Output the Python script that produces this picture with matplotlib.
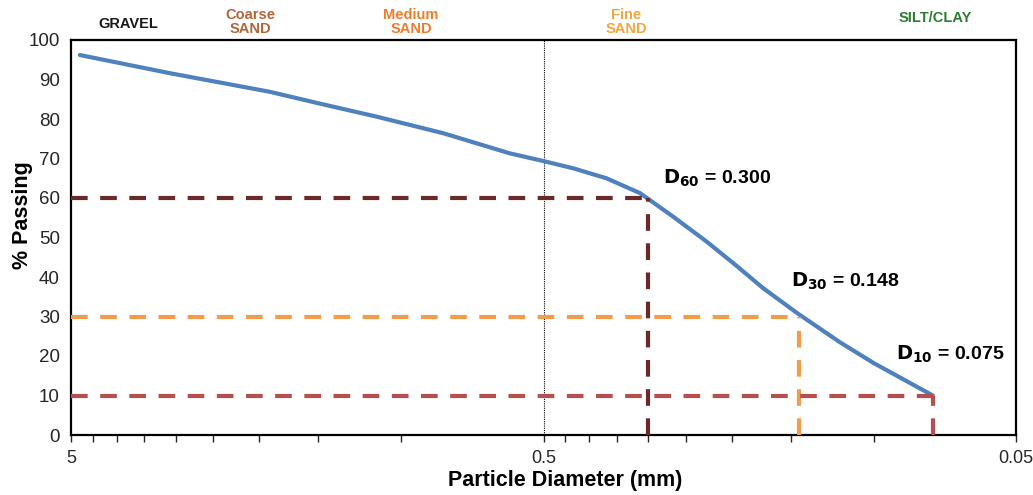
import numpy as np
import matplotlib
matplotlib.use('Agg')
import matplotlib.pyplot as plt
from matplotlib.ticker import FixedLocator, NullFormatter

# grain size curve
diameter = [4.79, 3.09, 1.90, 1.50, 1.128, 0.815, 0.589, 0.502, 0.432,
            0.368, 0.312, 0.266, 0.226, 0.195, 0.172, 0.145, 0.118, 0.100, 0.075]
passing = [96.2, 91.6, 86.9, 84.0, 80.6, 76.4, 71.3, 69.4, 67.5,
           65.0, 61.2, 55.3, 49.0, 42.8, 37.3, 30.8, 23.5, 18.2, 10.0]

# D values and where their guide lines sit
d_pct = [60, 30, 10]
d_size = [0.300, 0.144, 0.075]
d_text = ['0.300', '0.148', '0.075']
d_colors = ['#6b2a2a', '#f39c4a', '#b5504f']

x_ticks = [5, 0.5, 0.05]
x_ticklabels = ['5', '0.5', '0.05']
x_minor = [4.5, 4, 3.5, 3, 2.5, 2, 1.5, 1,
           0.45, 0.4, 0.35, 0.3, 0.25, 0.2, 0.15, 0.1]

zones = ['GRAVEL', 'Coarse\nSAND', 'Medium\nSAND', 'Fine\nSAND', 'SILT/CLAY']
zone_colors = ['#1a1a1a', '#b5653a', '#ee7d2e', '#f4a640', '#2e7d32']

plt.rcParams['font.family'] = ['Liberation Sans', 'DejaVu Sans']

fig = plt.figure(figsize=(10.33, 4.95), dpi=100)
ax = fig.add_axes([71/1033, 1-435/495, 945/1033, 395/495])

ax.set_xscale('log')
ax.set_xlim(5, 0.05)
ax.set_ylim(0, 100)

# curve
ax.plot(diameter, passing, color='#4f81bd', lw=3, solid_capstyle='round',
        solid_joinstyle='round', zorder=3)

# vertical reference at 0.5 mm
ax.axvline(0.5, color='black', lw=0.8, ls=(0, (1, 1)), zorder=1)

# D60 / D30 / D10 guides
for p, d, c in zip(d_pct, d_size, d_colors):
    ax.plot([5, d], [p, p], color=c, lw=3, ls=(0, (4, 3)), zorder=4)
    ax.plot([d, d], [0, p], color=c, lw=3, ls=(0, (4, 3)), zorder=4)

# labels
label_pos = [(0.279, 65.1), (0.1497, 39.0), (0.0898, 20.5)]
for (lx, ly), p, t in zip(label_pos, d_pct, d_text):
    ax.text(lx, ly, r'$\mathbf{D_{%d}}$' % p + ' = ' + t, fontsize=14,
            fontweight='bold', va='center', ha='left', color='black', zorder=5)

# ticks
ax.xaxis.set_major_locator(FixedLocator(x_ticks))
ax.set_xticklabels(x_ticklabels)
ax.xaxis.set_minor_locator(FixedLocator(x_minor))
ax.xaxis.set_minor_formatter(NullFormatter())
ax.set_yticks(np.arange(0, 101, 10))
ax.tick_params(axis='x', which='both', direction='out', length=5, width=1,
               labelsize=13, colors='#262626', pad=6)
ax.tick_params(axis='y', length=0, labelsize=13.5, colors='#262626', pad=8)
for s in ax.spines.values():
    s.set_linewidth(1.6)
    s.set_color('black')

ax.set_xlabel('Particle Diameter (mm)', fontsize=15.5, fontweight='bold')
ax.xaxis.set_label_coords(0.523, -0.088)
ax.set_ylabel('% Passing', fontsize=15.5, fontweight='bold')
ax.yaxis.set_label_coords(-0.04, 0.557)

# soil classes above the plot
zone_x = [128, 250, 411, 626, 935]
zone_y = [24, 22, 22, 22, 18]
for z, c, zx, zy in zip(zones, zone_colors, zone_x, zone_y):
    fig.text(zx/1033, 1-zy/495, z, color=c, fontsize=10.5, fontweight='bold',
             ha='center', va='center', linespacing=1.0)

fig.savefig('out.png', dpi=100)
